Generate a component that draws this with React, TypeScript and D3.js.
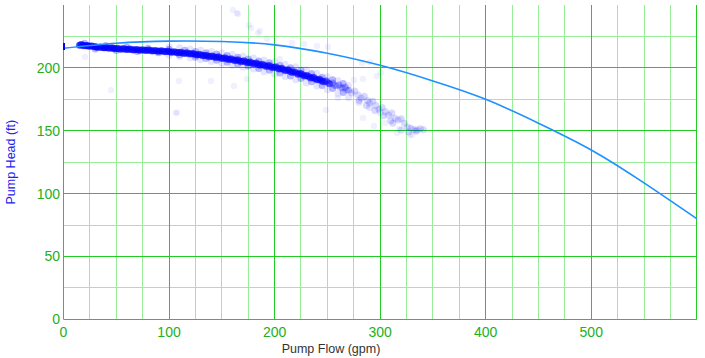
import React from "react";
import * as d3 from "d3";

const W = 705;
const H = 358;

const xTicks = [0, 100, 200, 300, 400, 500];
const yTicks = [0, 50, 100, 150, 200];
const xMinor = [25, 50, 75, 125, 150, 175, 225, 250, 275, 325, 350, 375, 425, 450, 475, 525, 550, 575];
const yMinor = [25, 75, 125, 175, 225];

// pump curve (flow gpm, head ft)
const curveFlow = [0, 50, 100, 150, 200, 250, 300, 350, 400, 450, 500, 550, 600];
const curveHead = [215.6, 219.6, 221.3, 221.0, 218.3, 211.6, 202, 189.6, 175, 156, 134.7, 108.5, 80];

// start marker at flow 0
const startMark = [0, 214.3, 219.8];

// dense measured band
const coreFlow = [15, 17, 19, 22, 24, 27, 30, 32, 35, 38, 40, 43, 46, 48, 51, 54, 57, 60, 63, 66, 69, 72, 75, 78, 81, 84, 87, 90, 93, 96, 99, 102, 105, 108, 111, 114, 117, 120, 123, 126, 129, 132, 135, 138, 141, 144, 147, 150, 153, 156, 159, 162, 165, 168, 171, 174, 177, 180, 183, 186, 189, 192, 195, 198, 201, 204, 207, 210, 213, 216, 219, 222, 225, 228, 231, 234, 237, 240, 243, 246, 249, 252];
const coreHead = [218, 218.5, 217.6, 217.8, 217.2, 217.4, 216.8, 216.3, 216.6, 215.9, 216.2, 215.6, 215.9, 215.2, 215.5, 214.9, 215.3, 214.6, 215, 214.3, 214.7, 214.1, 214.5, 213.8, 214.2, 213.5, 213.9, 213.2, 213.6, 212.8, 213.3, 212.4, 212.9, 212, 212.5, 211.5, 212, 211, 211.4, 210.3, 210.8, 209.6, 210.1, 208.9, 209.5, 208.2, 208.8, 207.4, 208, 206.6, 207.2, 205.8, 206.4, 204.9, 205.6, 204, 204.7, 203, 203.8, 202, 202.8, 201, 201.8, 200, 200.8, 199, 199.6, 197.8, 198.4, 196.5, 197, 195, 195.6, 193.5, 194, 192, 192.6, 190.5, 191, 189, 189.6, 187.4];

const core2Flow = [16, 18.5, 21, 23, 25.5, 28.5, 31, 33.5, 36.5, 39, 41.5, 44.5, 47, 49.5, 52.5, 55.5, 58.5, 61.5, 64.5, 67.5, 70.5, 73.5, 76.5, 79.5, 82.5, 85.5, 88.5, 91.5, 94.5, 97.5, 100.5, 103.5, 106.5, 109.5, 112.5, 115.5, 118.5, 121.5, 124.5, 127.5, 130.5, 133.5, 136.5, 139.5, 142.5, 145.5, 148.5, 151.5, 154.5, 157.5, 160.5, 163.5, 166.5, 169.5, 172.5, 175.5, 178.5, 181.5, 184.5, 187.5, 190.5, 193.5, 196.5, 199.5, 202.5, 205.5, 208.5, 211.5, 214.5, 217.5, 220.5, 223.5, 226.5, 229.5, 232.5, 235.5, 238.5, 241.5, 244.5];
const core2Head = [218.2, 217.9, 217.6, 217.5, 217.3, 217.0, 216.6, 216.4, 216.2, 216.0, 215.9, 215.7, 215.5, 215.3, 215.2, 215.0, 214.9, 214.8, 214.6, 214.5, 214.4, 214.3, 214.1, 214.0, 213.8, 213.7, 213.5, 213.4, 213.2, 213.0, 212.8, 212.6, 212.4, 212.2, 212.0, 211.7, 211.5, 211.2, 210.9, 210.5, 210.2, 209.8, 209.5, 209.2, 208.8, 208.5, 208.1, 207.7, 207.3, 206.9, 206.5, 206.1, 205.6, 205.2, 204.8, 204.3, 203.8, 203.4, 202.9, 202.4, 201.9, 201.4, 200.9, 200.4, 199.9, 199.3, 198.7, 198.1, 197.4, 196.7, 196, 195.3, 194.5, 193.7, 192.9, 192.1, 191.3, 190.5, 189.7];

const edgeFlow = [20, 40, 60, 80, 100, 115, 125, 135, 145, 155, 165, 175, 185, 195, 205, 215, 225, 235, 245, 255, 265, 30, 50, 70, 90, 110, 125, 135, 145, 155, 165, 175, 185, 195, 205, 215, 225, 235, 245, 255, 265, 247.5, 250.5, 255, 258, 261, 264, 267, 270];
const edgeHead = [219.5, 217.8, 216.6, 215.6, 214.9, 214, 213, 212, 211, 209.8, 208.5, 207, 205.5, 204, 202, 200, 198, 195.5, 192.5, 190.5, 187.5, 215, 213.8, 213, 212, 210.5, 208.5, 207.5, 206, 204.5, 203, 201.5, 199.5, 198, 196, 193.5, 191.5, 189, 186, 183.5, 180.5, 188.9, 188, 188, 185.8, 186.3, 184, 184.6, 182.2];

const haloFlow = [100, 110, 120, 130, 140, 150, 160, 170, 180, 190, 200, 210, 220, 230, 240, 250, 260, 270, 100, 110, 120, 130, 140, 150, 160, 170, 180, 190, 200, 210, 220, 230, 240, 250, 260, 270, 280, 290, 300];
const haloHead = [216.5, 216, 215, 214, 213, 211.8, 210.6, 209.2, 207.8, 206.3, 204.8, 202.8, 200.8, 198.3, 195.8, 193, 190, 186, 210, 209, 208, 206.5, 205, 203.5, 202, 200.5, 199, 197, 195, 193, 190.5, 188, 185.5, 182.5, 179.5, 176.5, 172.5, 168.5, 164.5];

const tailFlow = [273, 276, 279, 282, 285, 288, 290, 293, 296, 299, 302, 305, 308, 311, 314, 317, 320, 323, 326, 329, 332, 335, 338, 341, 327, 320, 303, 310, 280, 287, 295, 312, 334, 262, 268, 256];
const tailHead = [180, 181.5, 178.5, 176, 177.5, 174, 172, 173.5, 170, 167, 168.5, 165, 162.5, 164, 160, 158.5, 159.5, 156, 153, 152, 151, 150.5, 151.5, 150.8, 149, 150.5, 162, 158, 174, 170, 166, 156, 149.5, 184.5, 182.5, 186.5];

const outFlow = [160.5, 164.3, 165.3, 175.7, 177.6, 184.2, 186.1, 192.7, 216.4, 227.8, 240.1, 250.5, 109.4, 139.7, 107.5, 161.5, 173.8, 283.7, 275.2, 300.7, 296.9, 290.3, 282.7, 283.7, 294.1, 304.5, 315.9, 328.2, 317.8, 248.6, 330.1, 45, 20.3, 106.5, 205, 260];
const outHead = [246, 243.6, 242.8, 234.1, 231.7, 227.7, 229.3, 223, 219.8, 219, 217.4, 216.6, 189.6, 189.6, 164.2, 185.6, 191.2, 191.2, 190.4, 195.9, 193.5, 204.6, 203.8, 160.1, 153.7, 156.1, 148.2, 146.6, 151.4, 166.5, 146.6, 182.3, 208.7, 164.4, 207, 176];

const MAJOR = "#22cc22";
const MINOR = "#99ee99";
const TICK = "#22b022";

export default function App() {
  const x = d3.scaleLinear().domain([0, 600]).range([63.5, 696.8]);
  const y = d3.scaleLinear().domain([0, 250]).range([319.3, 5]);
  const cx = (v: number) => Math.floor(x(v)) + 0.5;
  const cy = (v: number) => Math.floor(y(v)) + 0.5;

  const line = d3
    .line<number>()
    .x((_, i) => x(curveFlow[i]))
    .y((d) => y(d))
    .curve(d3.curveNatural);

  const dots = (fs: number[], hs: number[], op: number, r: number, key: string) =>
    fs.map((f, i) => (
      <circle key={key + i} cx={x(f)} cy={y(hs[i])} r={r} fill="#0000ff" fillOpacity={op} />
    ));

  return (
    <svg width={W} height={H} style={{ position: "absolute", left: 0, top: 0 }} fontFamily="Arial, 'Liberation Sans', sans-serif">
      <rect width={W} height={H} fill="#fff" />
      {xMinor.map((v) => (
        <line key={"xm" + v} x1={cx(v)} x2={cx(v)} y1={y(250)} y2={y(0)} stroke={MINOR} />
      ))}
      {yMinor.map((v) => (
        <line key={"ym" + v} x1={x(0)} x2={x(600)} y1={cy(v)} y2={cy(v)} stroke={MINOR} />
      ))}
      {xTicks.map((v) => (
        <line key={"xM" + v} x1={cx(v)} x2={cx(v)} y1={y(250)} y2={y(0)} stroke={MAJOR} />
      ))}
      <line x1={cx(600)} x2={cx(600)} y1={y(250)} y2={y(0)} stroke={MAJOR} />
      {yTicks.map((v) => (
        <line key={"yM" + v} x1={x(0)} x2={x(600)} y1={cy(v)} y2={cy(v)} stroke={MAJOR} />
      ))}

      {dots(outFlow, outHead, 0.06, 3.2, "o")}
      {dots(haloFlow, haloHead, 0.1, 3.5, "h")}
      {dots(tailFlow, tailHead, 0.15, 3.5, "t")}
      {dots(edgeFlow, edgeHead, 0.28, 3.5, "e")}
      {dots(coreFlow, coreHead, 0.55, 3.5, "c")}
      {dots(core2Flow, core2Head, 0.55, 3.5, "d")}

      <path d={line(curveHead) || ""} fill="none" stroke="#1e90ff" strokeWidth={1.6} />
      <line x1={x(startMark[0]) + 0.5} x2={x(startMark[0]) + 0.5} y1={y(startMark[1])} y2={y(startMark[2])} stroke="#0000ff" strokeWidth={2} />

      {xTicks.map((v) => (
        <text key={"xt" + v} x={x(v)} y={337} textAnchor="middle" fontSize={14} fill={TICK}>
          {v}
        </text>
      ))}
      {yTicks.map((v) => (
        <text key={"yt" + v} x={60} y={y(v) + 5} textAnchor="end" fontSize={14} fill={TICK}>
          {v}
        </text>
      ))}
      <text x={331} y={353} textAnchor="middle" fontSize={12.5} fill="#333">
        Pump Flow (gpm)
      </text>
      <text transform={`translate(15,${(y(0) + y(250)) / 2}) rotate(-90)`} textAnchor="middle" fontSize={12.5} fill="#2222ee">
        Pump Head (ft)
      </text>
    </svg>
  );
}
